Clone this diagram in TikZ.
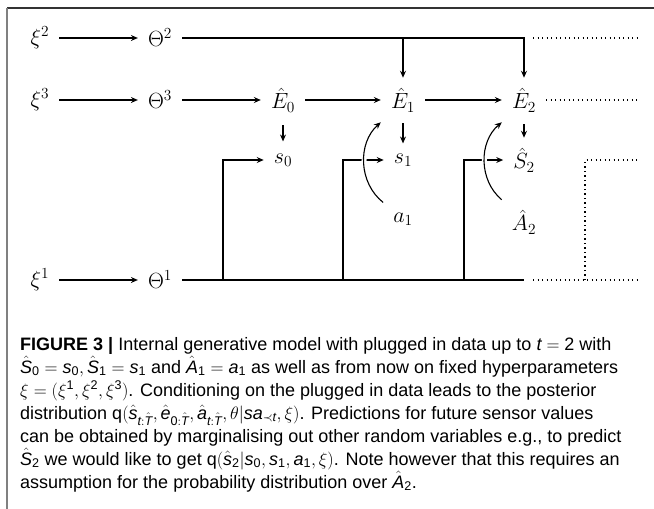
\RequirePackage{fix-cm}
\documentclass[tikz,border=0pt]{standalone}
\usepackage{amsmath,amssymb}
\usepackage{fontspec}
\newfontfamily\capfont{Liberation Sans}
\usepackage{tikz}
\usetikzlibrary{positioning,arrows.meta,calc}

\newcommand{\cv}[1]{\textit{#1}}

\begin{document}
\begin{tikzpicture}[x=1pt,y=-1pt,
		>={Stealth[length=7pt,width=6pt,inset=2.5pt]},
		every node/.style={font=\fontsize{22}{26}\selectfont},
		var/.style={inner sep=10pt},
		link/.style={line width=1.1pt},
		dots/.style={line width=1.3pt,dash pattern=on 1.3pt off 3.2pt},
		caption/.style={font=\capfont\fontsize{18}{23}\selectfont,align=left,inner sep=0pt},
		]
		\useasboundingbox (0,0) rectangle (654,509);
		
		% frame
		\draw[black!80,line width=1.3pt] (7,8) -- (654,8);
		\draw[black!50,line width=1.3pt] (7,8) -- (7,509);
		
		% hyperparameters and parameters
		\node[var] (xi2) at (40,38) {$\xi^2$};
		\node[var] (th2) at (160,38) {$\Theta^2$};
		\node[var] (xi3) at (40,100) {$\xi^3$};
		\node[var] (th3) at (160,100) {$\Theta^3$};
		\node[var] (xi1) at (40,280) {$\xi^1$};
		\node[var] (th1) at (160,280) {$\Theta^1$};
		
		% environment states
		\node[var] (e0) at (283,100) {$\hat{E}_0$};
		\node[var] (e1) at (403,100) {$\hat{E}_1$};
		\node[var] (e2) at (524,100) {$\hat{E}_2$};
		
		% sensor values
		\node[var] (s0) at (283,160) {$s_0$};
		\node[var] (s1) at (403,160) {$s_1$};
		\node[var] (s2) at (524,160) {$\hat{S}_2$};
		
		% actions
		\node[var] (a1) at (403,219) {$a_1$};
		\node[var] (a2) at (524,222) {$\hat{A}_2$};
		
		\coordinate (j0) at (223,280);
		\coordinate (j1) at (343,280);
		\coordinate (j2) at (464,280);
		\coordinate (end1) at (524,280);
		\coordinate (d2a) at (533,38);
		\coordinate (d2b) at (637,38);
		\coordinate (d3) at (637,100);
		\coordinate (d1a) at (533,280);
		\coordinate (d1b) at (637,280);
		\coordinate (dl) at (585,280);
		\coordinate (dr) at (637,160);
		
		\draw[link,->] (xi2) -- (th2);
		\draw[link,->] (th2) -| (e1);
		\draw[link,->] (th2) -| (e2);
		
		\draw[link,->] (xi3) -- (th3);
		\draw[link,->] (th3) -- (e0);
		\draw[link,->] (e0) -- (e1);
		\draw[link,->] (e1) -- (e2);
		
		\draw[link,->,shorten <=3pt,shorten >=2pt] (e0) -- (s0);
		\draw[link,->,shorten <=1pt] (e1) -- (s1);
		\draw[link,->,shorten <=2pt] (e2) -- (s2);
		
		\draw[link,->] (xi1) -- (th1);
		\draw[link] (th1) -- (end1);
		\draw[link,->] (j0) |- (s0);
		\draw[link,->] (j1) |- (s1);
		\draw[link,->] (j2) |- (s2);
		
		% actions act on the environment
		\draw[link,->,preaction={draw,white,line width=5pt,-}] (a1.north west) to[bend left=50] (e1.south west);
		\draw[link,->,preaction={draw,white,line width=5pt,-}] (a2.north west) to[bend left=50] (e2.south west);
		
		% continuation
		\draw[dots] (d2a) -- (d2b);
		\draw[dots] (e2) -- (d3);
		\draw[dots] (dl) |- (dr);
		\draw[dots] (d1a) -- (d1b);
		
		% caption
		\node[caption,anchor=north west] (cap) at (20,337) {%
			{\bfseries FIGURE 3 |} Internal generative model with plugged in data up to $\cv{t} = \text{2}$ with\\
			$\hat{\cv{S}}_{\text{0}} = \cv{s}_{\text{0}}, \hat{\cv{S}}_{\text{1}} = \cv{s}_{\text{1}}$ and $\hat{\cv{A}}_{\text{1}} = \cv{a}_{\text{1}}$ as well as from now on fixed hyperparameters\\
			$\xi = (\xi^{\text{1}}, \xi^{\text{2}}, \xi^{\text{3}})$. Conditioning on the plugged in data leads to the posterior\\
			distribution $\text{q}(\hat{\cv{s}}_{\cv{t}:\hat{\cv{T}}}, \hat{\cv{e}}_{\text{0}:\hat{\cv{T}}}, \hat{\cv{a}}_{\cv{t}:\hat{\cv{T}}}, \theta|\cv{sa}_{\prec\cv{t}}, \xi)$. Predictions for future sensor values\\
			can be obtained by marginalising out other random variables e.g., to predict\\
			$\hat{\cv{S}}_{\text{2}}$ we would like to get $\text{q}(\hat{\cv{s}}_{\text{2}}|\cv{s}_{\text{0}}, \cv{s}_{\text{1}}, \cv{a}_{\text{1}}, \xi)$. Note however that this requires an\\
			assumption for the probability distribution over $\hat{\cv{A}}_{\text{2}}$.};
	\end{tikzpicture}
\end{document}
